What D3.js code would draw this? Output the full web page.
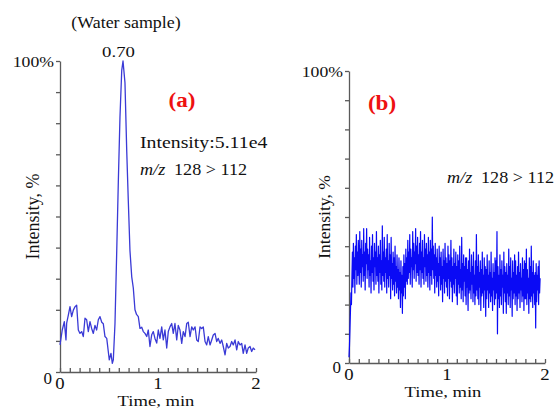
<!DOCTYPE html>
<html><head><meta charset="utf-8">
<script src="https://cdn.jsdelivr.net/npm/d3@7"></script>
<style>
body{margin:0;background:#fff}
svg{display:block}
</style>
</head><body>
<svg id="c" width="557" height="409"></svg>
<script>
// ---------- DATA ----------
const timeA = [0.000,0.023,0.044,0.061,0.068,0.085,0.102,0.119,0.136,0.153,0.170,0.187,0.204,0.221,0.238,0.255,0.272,0.289,0.306,0.323,0.340,0.357,0.374,0.391,0.408,0.426,0.442,0.459,0.477,0.493,0.503,0.520,0.534,0.544,0.561,0.579,0.595,0.612,0.630,0.643,0.663,0.681,0.697,0.714,0.732,0.748,0.765,0.781,0.799,0.816,0.834,0.850,0.867,0.885,0.901,0.918,0.936,0.952,0.969,0.987,1.003,1.020,1.038,1.054,1.071,1.089,1.105,1.122,1.140,1.156,1.173,1.191,1.207,1.224,1.242,1.258,1.276,1.293,1.309,1.327,1.344,1.360,1.378,1.395,1.411,1.429,1.446,1.462,1.480,1.497,1.513,1.531,1.548,1.564,1.582,1.599,1.615,1.633,1.650,1.666,1.684,1.701,1.717,1.735,1.752,1.768,1.786,1.803,1.819,1.837,1.854,1.870,1.888,1.905,1.921,1.939,1.956,1.972,1.990];
const intensityA = [8.7,13.5,16.2,10.3,15.7,18.3,21.0,17.8,19.9,21.0,21.5,13.5,12.4,13.0,11.4,17.3,16.8,13.0,16.2,14.0,12.4,15.0,13.5,16.8,17.8,16.0,15.5,11.4,10.8,6.5,3.9,6.0,2.8,3.9,15.5,39,61,82,97,100,93,71,55,39,30.6,27,20,18.5,17.8,14.0,14.4,13.0,12.4,11.4,13.5,8.2,12.0,13.0,10.8,9.3,13.5,10.8,14.5,10.3,13.5,7.7,13.0,14.5,15.6,12.4,15.6,10.3,15.0,13.5,9.2,13.0,11.4,15.6,16.0,11.4,14.5,13.5,14.5,10.3,9.8,14.5,14.0,14.5,9.8,8.7,11.4,8.7,10.3,11.9,12.4,9.8,10.8,9.2,10.3,8.2,5.5,9.2,7.7,8.2,9.8,8.7,10.3,7.1,9.8,8.7,9.2,6.0,8.7,6.0,7.7,8.2,6.6,7.7,7.1];

const stepB = 0.005; // sampling interval (min) of trace b
const intensityB = [
 2,6,12,18,24,20,30,38,26,41,29,36,24,40,32,44,27,38,30,42,
 35,27,45,31,39,26,42,33,37,28,46,30,38,25,41,34,46,29,39,32,
 37,26,43,30,35,24,40,31,44,28,36,25,41,33,38,27,45,30,36,28,
 40,24,37,31,42,27,35,25,47,30,38,28,43,26,36,31,39,24,44,29,
 35,26,41,30,37,22,43,29,34,25,38,27,36,23,40,28,33,24,37,26,
 32,22,36,25,31,19,35,24,30,17,33,23,37,26,34,22,39,28,36,27,
 42,29,38,31,44,27,39,33,36,26,45,32,41,29,38,34,46,28,40,31,
 43,30,37,27,41,32,45,26,38,31,42,29,36,27,44,33,39,28,41,30,
 37,26,43,31,38,25,42,30,39,27,50,32,40,29,37,24,41,30,36,26,
 39,28,34,23,40,30,36,25,38,27,33,21,39,29,35,24,41,28,36,26,
 34,23,40,29,37,22,35,28,42,26,36,21,33,27,39,24,34,29,38,23,
 33,20,37,27,35,24,40,26,32,22,43,25,34,21,37,28,33,23,36,20,
 36,26,32,18,35,24,39,25,31,22,37,27,33,21,38,24,30,20,35,23,
 44,25,33,22,37,20,31,26,35,18,32,23,38,24,30,19,36,25,33,16,
 32,22,37,25,30,19,35,24,31,21,38,23,29,18,34,25,31,20,36,22,
 35,24,45,10,33,22,30,19,37,23,32,20,35,26,30,17,38,24,33,21,
 31,17,34,24,30,20,39,23,33,19,36,25,29,16,35,22,31,24,37,20,
 35,23,30,18,33,22,38,24,31,19,34,25,29,21,36,23,32,18,35,22,
 34,22,39,20,32,24,29,17,36,22,33,21,40,23,31,19,35,24,30,20,
 31,12,34,21,30,25,33,20,35,24,29];

const xMinorTicks = [0,0.1,0.2,0.3,0.4,0.5,0.6,0.7,0.8,0.9,1,1.1,1.2,1.3,1.4,1.5,1.6,1.7,1.8,1.9,2];
const xTickLabels = [0,1,2];
const yTicks = [0,10,20,30,40,50,60,70,80,90,100];
const yTopLabel = "100%";
const yZeroLabel = "0";

// ---------- DRAW ----------
const FONT = "'Liberation Serif', 'Times New Roman', Times, 'DejaVu Serif', serif";
const svg = d3.select("#c");

function txt(x, y, s, o) {
  o = o || {};
  const t = svg.append("text")
    .attr("transform", `translate(${x},${y}) ${o.rot ? "rotate(" + o.rot + ")" : ""} scale(${o.sx || 1},1)`)
    .attr("text-anchor", o.anchor || "start")
    .attr("font-family", FONT)
    .attr("font-size", (o.size || 16))
    .attr("fill", o.fill || "#111");
  if (o.weight) t.attr("font-weight", o.weight);
  if (o.style) t.attr("font-style", o.style);
  if (s !== null) t.text(s);
  return t;
}

function panel(cfg) {
  const x = d3.scaleLinear().domain([0, 2]).range([cfg.x0, cfg.x1]);
  const y = d3.scaleLinear().domain([0, 100]).range([cfg.yb, cfg.yt]);

  const ya = svg.append("g").attr("transform", `translate(${cfg.x0},0)`)
    .call(d3.axisLeft(y).tickValues(yTicks).tickSizeInner(4).tickSizeOuter(0).tickFormat(() => ""));
  const xa = svg.append("g").attr("transform", `translate(0,${cfg.yb})`)
    .call(d3.axisBottom(x).tickValues(xMinorTicks).tickSizeInner(-4).tickSizeOuter(0).tickFormat(() => ""));
  [ya, xa].forEach(g => {
    g.selectAll("path,line").attr("stroke", "#5a5a5a").attr("stroke-width", 1.3);
  });

  // tick labels
  xTickLabels.forEach(v => txt(x(v), cfg.yb + cfg.xlabDy, String(v), {size: 17, anchor: "middle", sx: 1.1}));
  txt(cfg.x0 - 6, y(100) + 6, yTopLabel, {size: 14.5, anchor: "end", sx: 1.22});
  txt(cfg.x0 - 8, y(0) + cfg.zeroDy, yZeroLabel, {size: 17, anchor: "end"});

  // axis titles
  txt(cfg.ylabX, (cfg.yt + cfg.yb) / 2 + cfg.ylabDy, "Intensity, %", {size: cfg.ylabSize, anchor: "middle", rot: -90});
  txt((x(0) + x(2)) / 2 + cfg.xtDx, cfg.xtY, "Time, min", {size: 15.5, anchor: "middle", sx: 1.2});

  // trace
  const line = d3.line().x(d => x(d[0])).y(d => y(d[1]));
  svg.append("path").datum(cfg.data)
    .attr("fill", "none")
    .attr("stroke", cfg.color)
    .attr("stroke-width", cfg.sw)
    .attr("stroke-linejoin", "round")
    .attr("d", line);
  return {x, y};
}

const dataA = timeA.map((t, i) => [t, intensityA[i]]);
const dataB = intensityB.map((v, i) => [i * stepB, v]);

panel({x0: 60, x1: 256, yb: 372, yt: 61, data: dataA, color: "#3a3ad6", sw: 1.3,
  xlabDy: 17, zeroDy: 12, ylabX: 39, ylabDy: 0, ylabSize: 18, xtDx: -2, xtY: 406});
panel({x0: 349, x1: 545, yb: 363, yt: 71, data: dataB, color: "#0a0af5", sw: 1.2,
  xlabDy: 17, zeroDy: 10, ylabX: 330, ylabDy: 0, ylabSize: 17.5, xtDx: -4, xtY: 397});

// annotations panel a
txt(126, 28, "(Water sample)", {size: 16, anchor: "middle", sx: 1.12});
txt(118.5, 57, "0.70", {size: 15, anchor: "middle", sx: 1.25});
txt(182, 107, "(a)", {size: 21, anchor: "middle", weight: "bold", fill: "#ee1111", sx: 1.1});
txt(140, 148, "Intensity:5.11e4", {size: 16.5, sx: 1.2});
const mzA = txt(140, 175, null, {size: 16.5, sx: 1.1});
mzA.append("tspan").attr("font-style", "italic").text("m/z");
mzA.append("tspan").attr("dx", 8).text("128 > 112");

// annotations panel b
txt(382, 110, "(b)", {size: 21, anchor: "middle", weight: "bold", fill: "#ee1111", sx: 1.1});
const mzB = txt(447, 183, null, {size: 16.5, sx: 1.1});
mzB.append("tspan").attr("font-style", "italic").text("m/z");
mzB.append("tspan").attr("dx", 8).text("128 > 112");
</script>
</body></html>
